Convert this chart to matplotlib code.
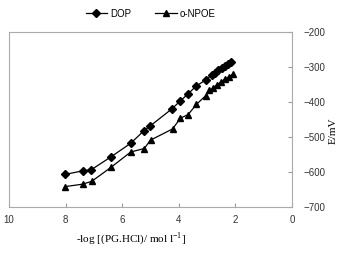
import matplotlib
matplotlib.use("Agg")
from matplotlib import pyplot as plt

# DOP series
dop_x = [8.02, 7.4, 7.1, 6.4, 5.7, 5.23, 5.02, 4.25, 3.96, 3.69, 3.38, 3.05,
         2.84, 2.72, 2.6, 2.48, 2.37, 2.25, 2.16]
dop_y = [-607, -597, -594, -557, -518, -482, -469, -420, -398, -378, -354, -337,
         -323, -316, -309, -304, -297, -290, -285]

# o-NPOE series
npoe_x = [8.02, 7.4, 7.08, 6.4, 5.7, 5.22, 5.0, 4.22, 3.94, 3.67, 3.38, 3.05,
          2.92, 2.8, 2.66, 2.52, 2.38, 2.23, 2.1]
npoe_y = [-642, -635, -627, -587, -543, -533, -509, -477, -446, -436, -407, -382,
          -366, -361, -351, -344, -335, -328, -321]

xticks = [10, 8, 6, 4, 2, 0]
yticks = [-200, -300, -400, -500, -600, -700]

plt.rcParams['font.family'] = 'Liberation Sans'
plt.rcParams['mathtext.fontset'] = 'custom'
plt.rcParams['mathtext.rm'] = 'Liberation Serif'

fig = plt.figure(figsize=(3.5, 2.57), dpi=100)
ax = fig.add_axes([0.026, 0.195, 0.808, 0.68])

ax.plot(dop_x, dop_y, c='black', lw=0.9, marker='D', ms=4.2, label='DOP')
ax.plot(npoe_x, npoe_y, c='black', lw=0.9, marker='^', ms=4.5, label='o-NPOE')

ax.set_xlim(10, 0)
ax.set_ylim(-700, -200)
ax.set_xticks(xticks)
ax.set_yticks(yticks)
ax.yaxis.tick_right()
ax.tick_params(axis='both', direction='in', length=3, color='#999999',
               labelsize=7, labelcolor='#333333')
ax.tick_params(axis='x', pad=6)
ax.tick_params(axis='y', pad=8)
for s in ax.spines.values():
    s.set_color('#aaaaaa')
    s.set_linewidth(0.8)

fig.legend(loc='upper center', bbox_to_anchor=(0.43, 1.0), ncol=2, frameon=False,
           fontsize=7, handlelength=2.2, columnspacing=2.5, handletextpad=0.3)

fig.text(0.375, 0.07, '-log [(PG.HCl)/ mol l$^{\\mathrm{-1}}$]', family='Liberation Serif',
         fontsize=8, ha='center', va='center')
fig.text(0.952, 0.49, 'E/mV', family='Liberation Serif', fontsize=8,
         rotation=90, ha='center', va='center')

plt.savefig('out.png', dpi=100)
